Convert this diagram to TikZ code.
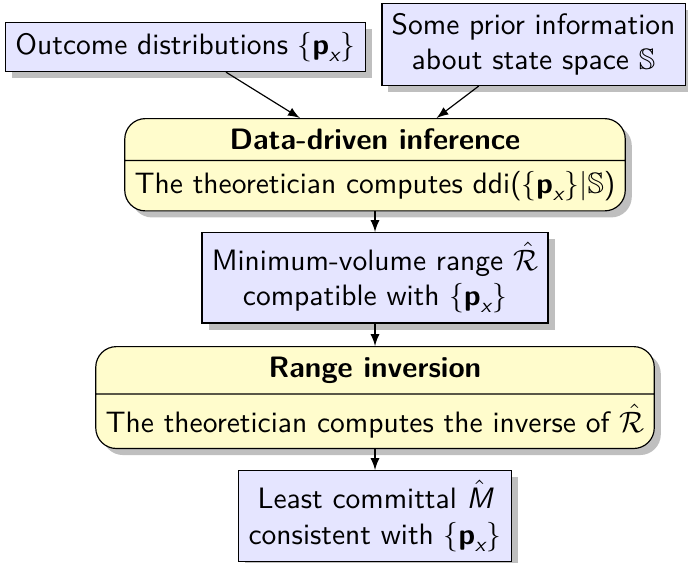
\documentclass[tikz,border=0pt]{standalone}
\usepackage{amsmath,amssymb}
\usetikzlibrary{shapes.multipart,shadows,arrows}
\renewcommand{\familydefault}{\sfdefault}
\newcommand{\pxset}{\{\textbf{p}_{\textit{x}}\}}
\begin{document}
\begin{tikzpicture}[x=0.339pt,y=-0.339pt,
  bluebox/.style={draw=black, fill=blue!10, drop shadow, align=center, font=\sffamily},
  yellowbox/.style={draw=black, fill=yellow!20, rectangle split, rectangle split parts=2,
    rounded corners=7pt, drop shadow, font=\sffamily},
  conn/.style={-latex, thin}]
\useasboundingbox (0,0) rectangle (688,562);
\node[bluebox] (out) at (185.5,47) {Outcome distributions $\pxset$};
\node[bluebox] (prior) at (533.5,44.5) {Some prior information\\ about state space $\mathbb{S}$};
\node[yellowbox, anchor=north] (ddi) at (375,118)
  {\textbf{Data-driven inference}\nodepart{two}The theoretician computes ddi($\pxset|\mathbb{S}$)};
\node[bluebox, anchor=north] (range) at (375,232) {Minimum-volume range $\hat{\mathcal{R}}$\\ compatible with $\pxset$};
\node[yellowbox, anchor=north] (inv) at (375,346)
  {\textbf{Range inversion}\nodepart{two}The theoretician computes the inverse of $\hat{\mathcal{R}}$};
\node[bluebox, anchor=north] (meas) at (375,470) {Least committal $\hat{\textit{M}}$\\ consistent with $\pxset$};
\draw[conn] (out) -- (ddi);
\draw[conn] (prior) -- (ddi);
\draw[conn] (ddi) -- (range);
\draw[conn] (range) -- (inv);
\draw[conn] (inv) -- (meas);
\end{tikzpicture}
\end{document}
